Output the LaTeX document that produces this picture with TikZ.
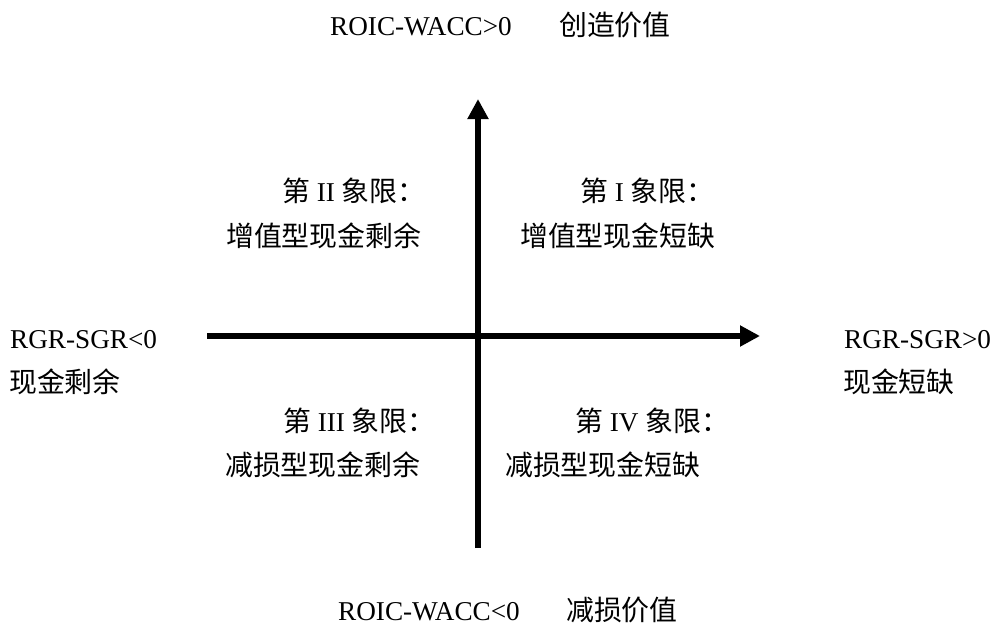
\documentclass[tikz,border=0pt]{standalone}
\usepackage{fontspec}
\setmainfont{Liberation Serif}
\newfontfamily\cjk[Scale=1.025]{Noto Sans CJK SC}
\usetikzlibrary{arrows.meta}
\tikzset{
  lbl/.style={inner sep=0pt, anchor=base west, font=\fontsize{27.2}{32}\selectfont},
  axis/.style={line width=6.5pt, -{Triangle[length=20pt,width=20pt]}}
}
\begin{document}
\begin{tikzpicture}[x=1pt,y=-1pt]
\useasboundingbox[fill=white] (0,0) rectangle (997,624);
% axes
\coordinate (vb) at (478,548);
\coordinate (vt) at (478,99);
\coordinate (hl) at (207,336);
\coordinate (hr) at (760,336);
\draw[axis] (vb) -- (vt);
\draw[axis] (hl) -- (hr);
% top / bottom
\node[lbl] (t1) at (330,35) {ROIC-WACC>0};
\node[lbl] (t2) at (559,35) {\cjk 创造价值};
\node[lbl] (b1) at (338,620) {ROIC-WACC<0};
\node[lbl] (b2) at (566,620) {\cjk 减损价值};
% left / right
\node[lbl] (l1) at (10,348) {RGR-SGR<0};
\node[lbl] (l2) at (9,392) {\cjk 现金剩余};
\node[lbl] (r1) at (844,348) {RGR-SGR>0};
\node[lbl] (r2) at (843,392) {\cjk 现金短缺};
% quadrants
\node[lbl] (q2a) at (282,201) {{\cjk 第} II {\cjk 象限：}};
\node[lbl] (q2b) at (226,246) {\cjk 增值型现金剩余};
\node[lbl] (q1a) at (580,201) {{\cjk 第} I {\cjk 象限：}};
\node[lbl] (q1b) at (520,246) {\cjk 增值型现金短缺};
\node[lbl] (q3a) at (283,431) {{\cjk 第} III {\cjk 象限：}};
\node[lbl] (q3b) at (225,475) {\cjk 减损型现金剩余};
\node[lbl] (q4a) at (575,431) {{\cjk 第} IV {\cjk 象限：}};
\node[lbl] (q4b) at (505,475) {\cjk 减损型现金短缺};
\end{tikzpicture}
\end{document}
